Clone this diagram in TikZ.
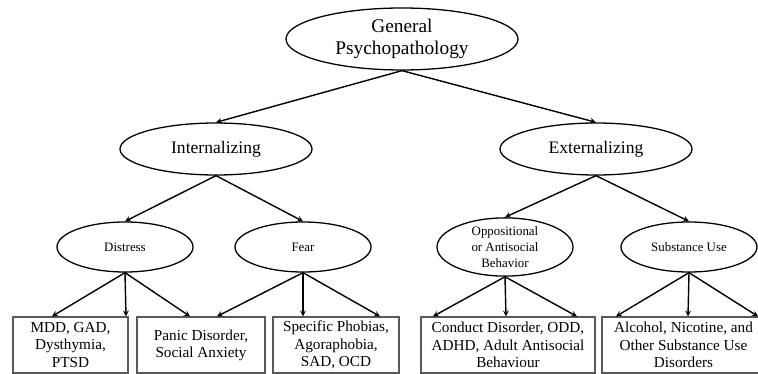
\documentclass[tikz,border=0pt]{standalone}
\usepackage{fontspec}
\setmainfont{Liberation Serif}
\usepackage{tikz}
\usetikzlibrary{shapes}
\usetikzlibrary{arrows}
\usetikzlibrary{calc}
\tikzstyle{general}=[ellipse,draw,line width=1.1pt,inner sep=0pt,
        minimum width=6.96cm,minimum height=1.86cm,align=center,
        font=\fontsize{16.5}{19}\selectfont]
\tikzstyle{facteur}=[ellipse,draw,line width=1.1pt,inner sep=0pt,
        minimum width=5.76cm,minimum height=1.56cm,align=center,
        font=\fontsize{15}{18}\selectfont]
\tikzstyle{sousfacteur}=[ellipse,draw,line width=1.1pt,inner sep=0pt,
        minimum width=4.08cm,minimum height=1.5cm,align=center,
        font=\fontsize{11}{13.7}\selectfont]
\tikzstyle{trouble}=[rectangle,draw=black!65,line width=1pt,inner sep=0pt,
        minimum height=1.68cm,align=center,
        font=\fontsize{13}{14.7}\selectfont]
\tikzstyle{fleche}=[->,>=stealth,line width=1.2pt]
\begin{document}
\begin{tikzpicture}[x=0.03cm,y=-0.03cm]
\useasboundingbox (0,0) rectangle (758,374);
\clip (0,0) rectangle (758,374);
\node[general] (gen) at (402,39) {General\\Psychopathology};
\node[facteur] (int) at (216,149) {Internalizing};
\node[facteur] (ext) at (596,149) {Externalizing};
\node[sousfacteur] (dis) at (125,247) {Distress};
\node[sousfacteur] (fear) at (303,247) {Fear};
\node[sousfacteur] (opp) at (505,247) {Oppositional\\or Antisocial\\Behavior};
\node[sousfacteur] (sub) at (689,247) {Substance Use};
\node[trouble,minimum width=3.45cm] (b1) at (70.5,345) {MDD, GAD,\\Dysthymia,\\PTSD};
\node[trouble,minimum width=3.84cm] (b2) at (201,345) {Panic Disorder,\\Social Anxiety};
\node[trouble,minimum width=3.78cm] (b3) at (336,345) {Specific Phobias,\\Agoraphobia,\\SAD, OCD};
\node[trouble,minimum width=5.22cm] (b4) at (508,345) {Conduct Disorder, ODD,\\ADHD, Adult Antisocial\\Behaviour};
\node[trouble,minimum width=4.89cm] (b5) at (683.5,345) {Alcohol, Nicotine, and\\Other Substance Use\\Disorders};
%fleches
\draw[fleche] (gen.south) -- (int.north);
\draw[fleche] (gen.south) -- (ext.north);
\draw[fleche] (int.south) -- (dis.north);
\draw[fleche] (int.south) -- (fear.north);
\draw[fleche] (ext.south) -- (opp.north);
\draw[fleche] (ext.south) -- (sub.north);
\draw[fleche] (dis.south) -- ($(b1.north)+(-18.5,0)$);
\draw[fleche] (dis.south) -- ($(b1.north)+(55.5,0)$);
\draw[fleche] (dis.south) -- ($(b2.north)+(-11,0)$);
\draw[fleche] (fear.south) -- ($(b2.north)+(16,0)$);
\draw[fleche] (fear.south) -- ($(b3.north)+(-33,0)$);
\draw[fleche] (fear.south) -- ($(b3.north)+(44,0)$);
\draw[fleche] (opp.south) -- ($(b4.north)+(-75,0)$);
\draw[fleche] (opp.south) -- ($(b4.north)+(-2,0)$);
\draw[fleche] (opp.south) -- ($(b4.north)+(69,0)$);
\draw[fleche] (sub.south) -- ($(b5.north)+(-67.5,0)$);
\draw[fleche] (sub.south) -- ($(b5.north)+(4.5,0)$);
\draw[fleche] (sub.south) -- ($(b5.north)+(74.5,0)$);
\end{tikzpicture}
\end{document}
